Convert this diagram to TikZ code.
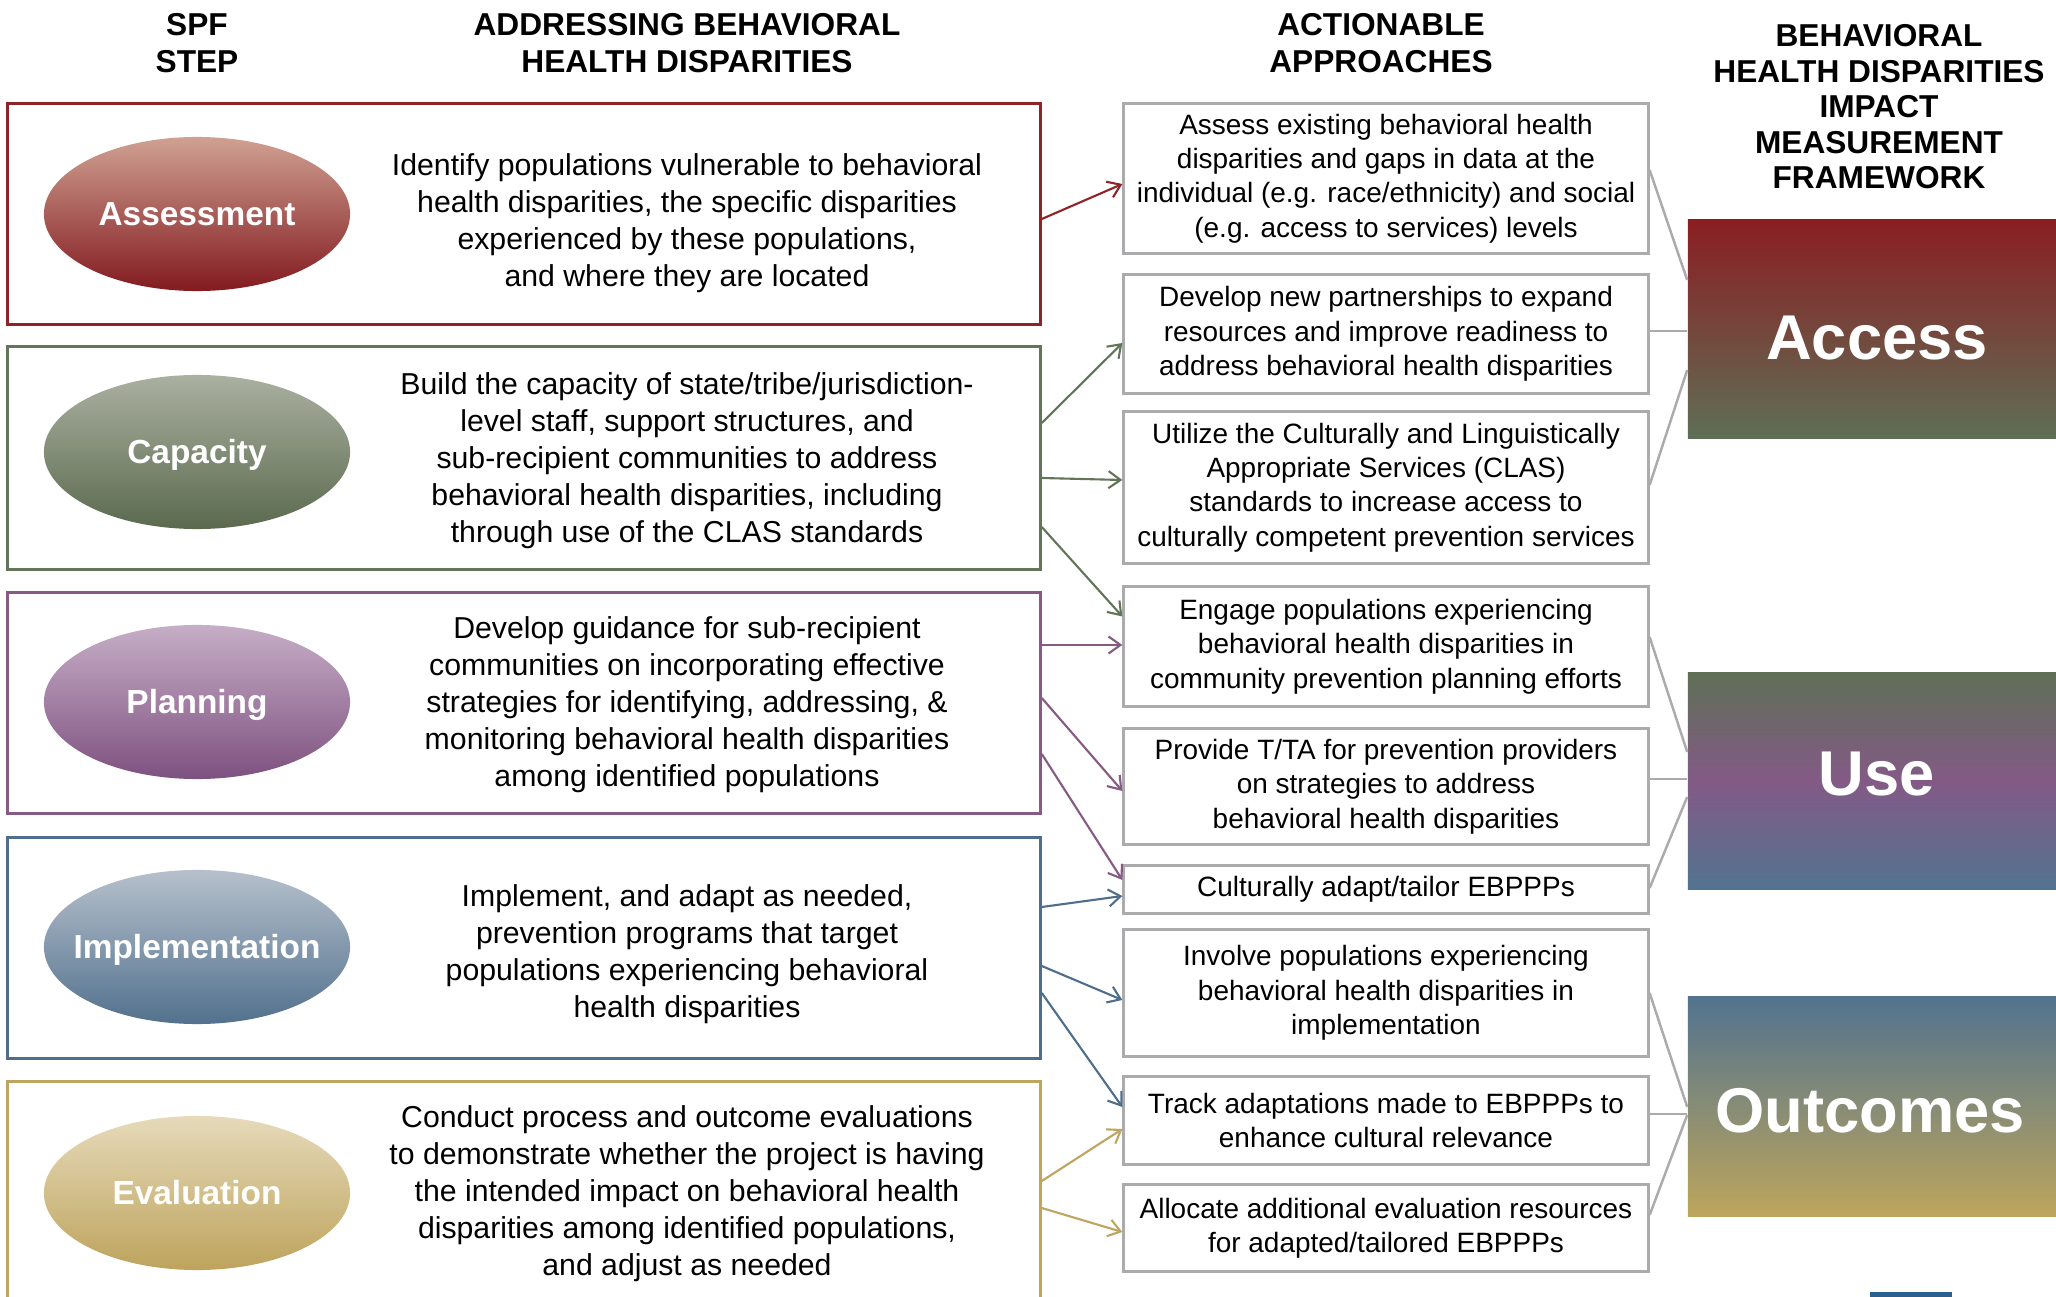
\documentclass[tikz,border=0pt]{standalone}
\usepackage{fontspec}
\setmainfont{Liberation Sans}
\usepackage{xcolor}
\usepackage{tikz}
\usetikzlibrary{arrows.meta}
\usetikzlibrary{calc}
\usetikzlibrary{shapes.geometric}
\definecolor{asmred}{HTML}{8E2428}
\definecolor{asmtop}{HTML}{CFA192}
\definecolor{asmbot}{HTML}{831A1F}
\definecolor{capgreen}{HTML}{627559}
\definecolor{captop}{HTML}{ABB0A0}
\definecolor{capbot}{HTML}{5A6A4E}
\definecolor{plnpurple}{HTML}{875A84}
\definecolor{plntop}{HTML}{C6AEC6}
\definecolor{plnbot}{HTML}{7E5180}
\definecolor{impblue}{HTML}{4F6E8B}
\definecolor{imptop}{HTML}{B6C0CC}
\definecolor{impbot}{HTML}{52718D}
\definecolor{evlgold}{HTML}{BFA560}
\definecolor{evltop}{HTML}{E6DABA}
\definecolor{evlbot}{HTML}{BDA35C}
\definecolor{linkgray}{HTML}{ABABAE}
\definecolor{accred}{HTML}{8A1E22}
\definecolor{accgreen}{HTML}{5F6F56}
\definecolor{usepurple}{HTML}{835A86}
\definecolor{useblue}{HTML}{52738F}
\definecolor{outgold}{HTML}{BDA55C}
\definecolor{barblue}{HTML}{2A5F8E}
\newcommand\bodyfont{\fontsize{8.6}{10.5}\selectfont}
\newcommand\actfont{\fontsize{7.95}{9.8}\selectfont}
\newcommand\headfont{\fontsize{9}{10.5}\selectfont\bfseries}
\tikzstyle{colhead}=[align=center,inner sep=0,font=\headfont]
\tikzstyle{spfbox}=[draw,line width=.85pt,minimum width=10.32cm,inner sep=0]
\tikzstyle{spfoval}=[ellipse,minimum width=3.06cm,minimum height=1.54cm,inner xsep=-14pt,inner ysep=0,
  text height=6.8pt,text depth=0pt,text=white,font=\fontsize{9.5}{11}\selectfont\bfseries]
\tikzstyle{spftext}=[align=center,inner sep=0,font=\bodyfont]
\tikzstyle{actbox}=[draw=linkgray,line width=.85pt,minimum width=5.24cm,inner sep=0,align=center,font=\actfont]
\tikzstyle{impbox}=[minimum width=3.68cm,inner sep=0]
\tikzstyle{implabel}=[inner sep=0,text height=12.9pt,text depth=0pt,text=white,font=\fontsize{18}{20}\selectfont\bfseries]
\tikzstyle{feedhead}=[>/.tip={Straight Barb[length=1.2mm,width=1.7mm]}]
\tikzstyle{feed}=[line width=.6pt,feedhead,->]
\tikzstyle{link}=[draw=linkgray,line width=.7pt]

\begin{document}
\begin{tikzpicture}[x=0.01cm,y=-0.01cm]
\useasboundingbox (0,0) rectangle (2056,1297);
\clip (0,0) rectangle (2056,1297);
% column heads
\node[colhead] (h-spf) at (197,43) {SPF\\STEP};
\node[colhead] (h-adr) at (687,43) {ADDRESSING BEHAVIORAL\\HEALTH DISPARITIES};
\node[colhead] (h-act) at (1381,43) {ACTIONABLE\\APPROACHES};
\node[colhead,font=\fontsize{9}{10.1}\selectfont\bfseries] (h-imp) at (1879,107)
  {BEHAVIORAL\\HEALTH DISPARITIES\\IMPACT\\MEASUREMENT\\FRAMEWORK};
% SPF steps
\node[spfbox,draw=asmred,minimum height=2.2cm] (asm) at (524,214) {};
\node[spfoval,top color=asmtop,bottom color=asmbot] (asm-o) at (197,214) {Assessment};
\node[spftext] (asm-t) at (687,223) {Identify populations vulnerable to behavioral\\health disparities, the specific disparities\\experienced by these populations,\\and where they are located};
\node[spfbox,draw=capgreen,minimum height=2.22cm] (cap) at (524,458) {};
\node[spfoval,top color=captop,bottom color=capbot] (cap-o) at (197,452) {Capacity};
\node[spftext] (cap-t) at (687,461) {Build the capacity of state/tribe/jurisdiction-\\level staff, support structures, and\\sub-recipient communities to address\\behavioral health disparities, including\\through use of the CLAS standards};
\node[spfbox,draw=plnpurple,minimum height=2.2cm] (pln) at (524,703) {};
\node[spfoval,top color=plntop,bottom color=plnbot] (pln-o) at (197,702) {Planning};
\node[spftext] (pln-t) at (687,705) {Develop guidance for sub-recipient\\communities on incorporating effective\\strategies for identifying, addressing, \&\\monitoring behavioral health disparities\\among identified populations};
\node[spfbox,draw=impblue,minimum height=2.2cm] (imp) at (524,948) {};
\node[spfoval,top color=imptop,bottom color=impbot] (imp-o) at (197,947) {Implementation};
\node[spftext] (imp-t) at (687,954) {Implement, and adapt as needed,\\prevention programs that target\\populations experiencing behavioral\\health disparities};
\node[spfbox,draw=evlgold,minimum height=2.2cm] (evl) at (524,1192) {};
\node[spfoval,top color=evltop,bottom color=evlbot] (evl-o) at (197,1193) {Evaluation};
\node[spftext] (evl-t) at (687,1194) {Conduct process and outcome evaluations\\to demonstrate whether the project is having\\the intended impact on behavioral health\\disparities among identified populations,\\and adjust as needed};
% actionable approaches
\node[actbox,minimum height=1.49cm] (act1) at (1386,178.5) {Assess existing behavioral health\\disparities and gaps in data at the\\individual (e.g. race/ethnicity) and social\\(e.g. access to services) levels};
\node[actbox,minimum height=1.18cm] (act2) at (1386,334) {Develop new partnerships to expand\\resources and improve readiness to\\address behavioral health disparities};
\node[actbox,minimum height=1.51cm] (act3) at (1386,487.5) {Utilize the Culturally and Linguistically\\Appropriate Services (CLAS)\\standards to increase access to\\culturally competent prevention services};
\node[actbox,minimum height=1.19cm] (act4) at (1386,646.5) {Engage populations experiencing\\behavioral health disparities in\\community prevention planning efforts};
\node[actbox,minimum height=1.15cm] (act5) at (1386,786.5) {Provide T/TA for prevention providers\\on strategies to address\\behavioral health disparities};
\node[actbox,minimum height=0.47cm] (act6) at (1386,889.5) {Culturally adapt/tailor EBPPPs};
\node[actbox,minimum height=1.26cm] (act7) at (1386,993) {Involve populations experiencing\\behavioral health disparities in\\implementation};
\node[actbox,minimum height=0.87cm] (act8) at (1386,1120.5) {Track adaptations made to EBPPPs to\\enhance cultural relevance};
\node[actbox,minimum height=0.86cm] (act9) at (1386,1228) {Allocate additional evaluation resources\\for adapted/tailored EBPPPs};
% impact framework
\node[impbox,minimum height=2.18cm,top color=accred,bottom color=accgreen] (acc) at (1872,329) {};
\node[implabel] (acc-l) at ($(acc)+(5,8)$) {Access};
\node[impbox,minimum height=2.16cm,top color=accgreen,bottom color=useblue,middle color=usepurple] (use) at (1872,781) {};
\node[implabel] (use-l) at ($(use)+(5,-8)$) {Use};
\node[impbox,minimum height=2.19cm,top color=useblue,bottom color=outgold] (out) at (1872,1106.5) {};
\node[implabel] (out-l) at ($(out)+(-2,3.5)$) {Outcomes};
\fill[barblue] (1870,1292) rectangle (1952,1300);
% steps to approaches
\draw[feed,asmred] ($(asm.east)+(0,5)$) -- ($(act1.west)+(0,5.5)$);
\draw[feed,capgreen] ($(cap.east)+(0,-35)$) -- ($(act2.west)+(0,9)$);
\draw[feed,capgreen] ($(cap.east)+(0,20)$) -- ($(act3.west)+(0,-7.5)$);
\draw[feed,capgreen] ($(cap.east)+(0,69)$) -- ($(act4.west)+(0,-30)$);
\draw[feed,plnpurple] ($(pln.east)+(0,-58)$) -- ($(act4.west)+(0,-1.5)$);
\draw[feed,plnpurple] ($(pln.east)+(0,-5)$) -- ($(act5.west)+(0,4.5)$);
\draw[feed,plnpurple] ($(pln.east)+(0,51)$) -- ($(act6.west)+(0,-9.5)$);
\draw[feed,impblue] ($(imp.east)+(0,-41)$) -- ($(act6.west)+(0,6.5)$);
\draw[feed,impblue] ($(imp.east)+(0,18)$) -- ($(act7.west)+(0,7)$);
\draw[feed,impblue] ($(imp.east)+(0,45)$) -- ($(act8.west)+(0,-13.5)$);
\draw[feed,evlgold] ($(evl.east)+(0,-11)$) -- ($(act8.west)+(0,8.5)$);
\draw[feed,evlgold] ($(evl.east)+(0,16)$) -- ($(act9.west)+(0,4)$);
% approaches to framework
\draw[link] ($(act1.east)+(0,-8.5)$) -- ($(acc.west)+(0,-49)$);
\draw[link] ($(act2.east)+(0,-3)$) -- ($(acc.west)+(0,2)$);
\draw[link] ($(act3.east)+(0,-2.5)$) -- ($(acc.west)+(0,41)$);
\draw[link] ($(act4.east)+(0,-9.5)$) -- ($(use.west)+(0,-29)$);
\draw[link] ($(act5.east)+(0,-7.5)$) -- ($(use.west)+(0,-2)$);
\draw[link] ($(act6.east)+(0,-1.5)$) -- ($(use.west)+(0,16)$);
\draw[link] (act7.east) -- ($(out.west)+(0,0.5)$);
\draw[link] ($(act8.east)+(0,-6.5)$) -- ($(out.west)+(0,7.5)$);
\draw[link] ($(act9.east)+(0,-13)$) -- ($(out.west)+(0,8.5)$);
\end{tikzpicture}
\end{document}
